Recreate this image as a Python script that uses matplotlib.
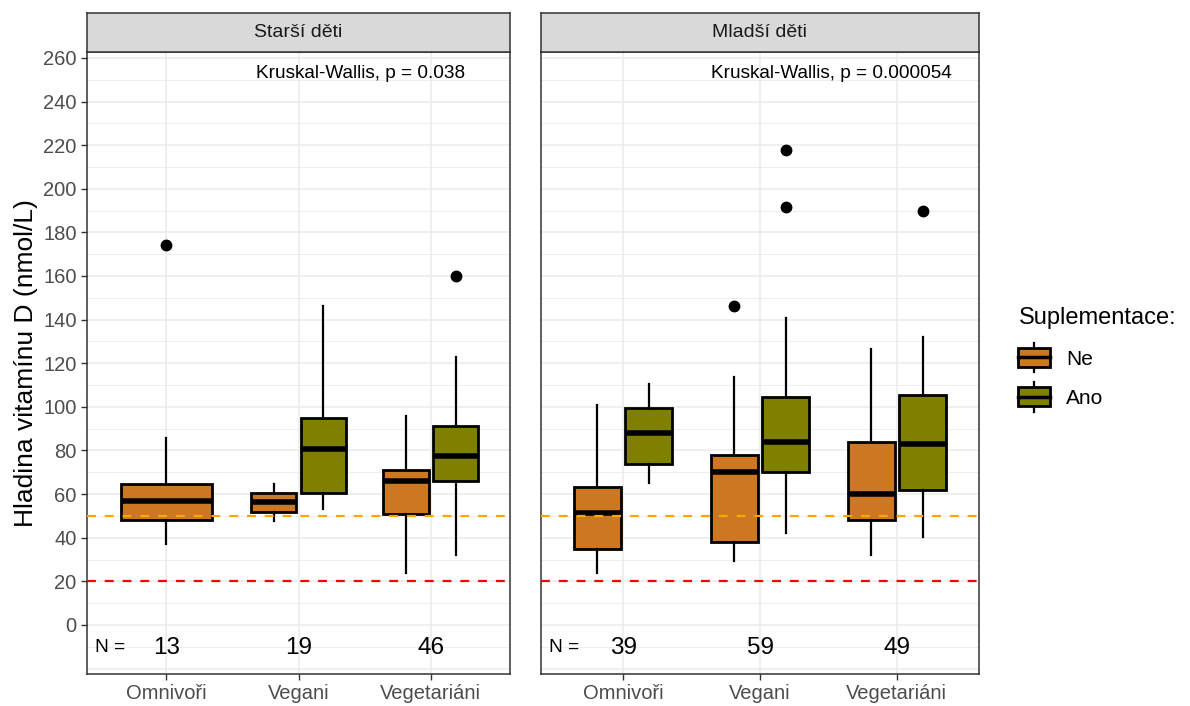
import matplotlib.pyplot as plt
import matplotlib.patches as mpatches
from matplotlib.lines import Line2D
from matplotlib.legend_handler import HandlerBase

plt.rcParams['font.family'] = ['Liberation Sans', 'DejaVu Sans']

# categories and facets
groups = ["Omnivoři", "Vegani", "Vegetariáni"]
panels = ["Starší děti", "Mladší děti"]
supp_levels = ["Ne", "Ano"]
supp_colors = ["#CC7722", "#808000"]

# box stats: [whislo, q1, median, q3, whishi] per group, None = no data
older_ne = [[37.1, 48.1, 57.0, 64.6, 85.9], [47.8, 51.7, 56.2, 60.7, 64.6], [23.7, 50.7, 66.0, 71.1, 96.0]]
older_ano = [None, [53.0, 60.4, 80.7, 94.9, 146.3], [32.1, 66.2, 77.5, 91.4, 122.7]]
older_ne_out = [[174.0], [], []]
older_ano_out = [[], [], [160.2]]

younger_ne = [[24.0, 34.8, 51.5, 63.1, 100.7], [29.5, 37.9, 70.2, 78.1, 113.9], [32.1, 48.0, 59.9, 84.1, 126.5]]
younger_ano = [[65.0, 73.8, 88.0, 99.6, 110.3], [42.0, 70.2, 83.8, 104.4, 140.6], [40.2, 61.8, 83.1, 105.6, 132.2]]
younger_ne_out = [[], [146.3], []]
younger_ano_out = [[], [217.8, 191.8], [190.0]]

older_n = [13, 19, 46]
younger_n = [39, 59, 49]
pvalues = ["0.038", "0.000054"]

thresholds = [50, 20]
threshold_colors = ["#FFA500", "#FF0000"]

panel_data = [
    (older_ne, older_ano, older_ne_out, older_ano_out, older_n),
    (younger_ne, younger_ano, younger_ne_out, younger_ano_out, younger_n),
]

W, H = 1190, 706
fig = plt.figure(figsize=(W / 100, H / 100), dpi=100)
axes_px = [(87, 423), (541, 438)]
label_x = [0.40, 0.387]
bottom_px, height_px, strip_px = 32, 622, 39

grid_col = "#EBEBEB"
frame_col = "#333333"


def stats(vals, fliers):
    return dict(whislo=vals[0], q1=vals[1], med=vals[2], q3=vals[3], whishi=vals[4], fliers=fliers)


for k, (left, width) in enumerate(axes_px):
    ax = fig.add_axes([left / W, bottom_px / H, width / W, height_px / H])
    ne, ano, ne_out, ano_out, ns = panel_data[k]
    ax.set_xlim(0.4, 3.6)
    ax.set_ylim(-22.5, 262.7)

    # grid
    for y in range(-20, 271, 10):
        ax.axhline(y, color=grid_col, lw=0.6 if y % 20 else 1.1, zorder=0)
    for x in range(1, len(groups) + 1):
        ax.axvline(x, color=grid_col, lw=1.1, zorder=0)

    # boxes
    for i in range(len(groups)):
        pos = i + 1
        pairs = [(ne[i], ne_out[i], supp_colors[0]), (ano[i], ano_out[i], supp_colors[1])]
        present = [p for p in pairs if p[0] is not None]
        if len(present) == 1:
            offsets, w = [0.0], 0.69
        else:
            offsets, w = [-0.188, 0.188], 0.345
        for (vals, outs, col), off in zip(present, offsets):
            ax.bxp([stats(vals, outs)], positions=[pos + off], widths=w,
                   patch_artist=True, showcaps=False, manage_ticks=False,
                   boxprops=dict(facecolor=col, edgecolor="black", linewidth=2.0),
                   whiskerprops=dict(color="black", linewidth=1.6),
                   medianprops=dict(color="black", linewidth=4.0, solid_capstyle="butt"),
                   flierprops=dict(marker="o", markerfacecolor="black",
                                   markeredgecolor="black", markersize=7.5),
                   zorder=3)

    # threshold lines
    for t, c in zip(thresholds, threshold_colors):
        ax.axhline(t, color=c, lw=1.6, ls=(0, (4, 4)), zorder=4)

    # N counts
    ax.text(0.46, -10.5, "N =", fontsize=13.8, va="center", ha="left")
    for i, n in enumerate(ns):
        ax.text(i + 1, -10.5, str(n), fontsize=17.5, va="center", ha="center")

    ax.text(label_x[k], 0.965, f"Kruskal-Wallis, p = {pvalues[k]}", transform=ax.transAxes,
            fontsize=13.7, va="center", ha="left")

    ax.set_xticks(range(1, len(groups) + 1))
    ax.set_xticklabels(groups)
    ax.set_yticks(range(0, 261, 20))
    ax.tick_params(colors=frame_col, labelcolor="#4D4D4D", labelsize=14.5, length=4, width=1)
    ax.tick_params(axis="x", pad=3)
    if k > 0:
        ax.tick_params(axis="y", left=False, labelleft=False)
    for s in ax.spines.values():
        s.set_color(frame_col)
        s.set_linewidth(1.1)

    # facet strip
    sax = fig.add_axes([left / W, (bottom_px + height_px) / H, width / W, strip_px / H])
    sax.set_facecolor("#D9D9D9")
    sax.set_xticks([])
    sax.set_yticks([])
    for s in sax.spines.values():
        s.set_color(frame_col)
        s.set_linewidth(1.1)
    sax.text(0.5, 0.5, panels[k], transform=sax.transAxes, ha="center", va="center",
             fontsize=14, color="#1A1A1A")

    if k == 0:
        ax.set_ylabel("Hladina vitamínu D (nmol/L)", fontsize=19, labelpad=4)


class BoxKey(HandlerBase):
    def create_artists(self, legend, orig_handle, xdescent, ydescent, width, height, fontsize, trans):
        x0, y0 = -xdescent, -ydescent
        col = orig_handle.get_facecolor()
        whisk = Line2D([x0 + width / 2] * 2, [y0 - height * 0.3, y0 + height * 1.3],
                       color="black", lw=1.6, transform=trans)
        rect = mpatches.Rectangle((x0, y0), width, height, facecolor=col,
                                  edgecolor="black", lw=2.0, transform=trans)
        med = Line2D([x0, x0 + width], [y0 + height / 2] * 2, color="black", lw=2.5,
                     transform=trans)
        return [whisk, rect, med]


handles = [mpatches.Patch(facecolor=c, edgecolor="black") for c in supp_colors]
leg = fig.legend(handles, supp_levels, handler_map={mpatches.Patch: BoxKey()},
                 loc="upper left", bbox_to_anchor=(1008 / W, 1 - 297 / H),
                 title="Suplementace:", title_fontsize=17, fontsize=15, frameon=False,
                 borderpad=0, handlelength=1.5, handleheight=1.0, labelspacing=0.9,
                 handletextpad=0.8, alignment="left")

fig.savefig("out.png", dpi=100)
